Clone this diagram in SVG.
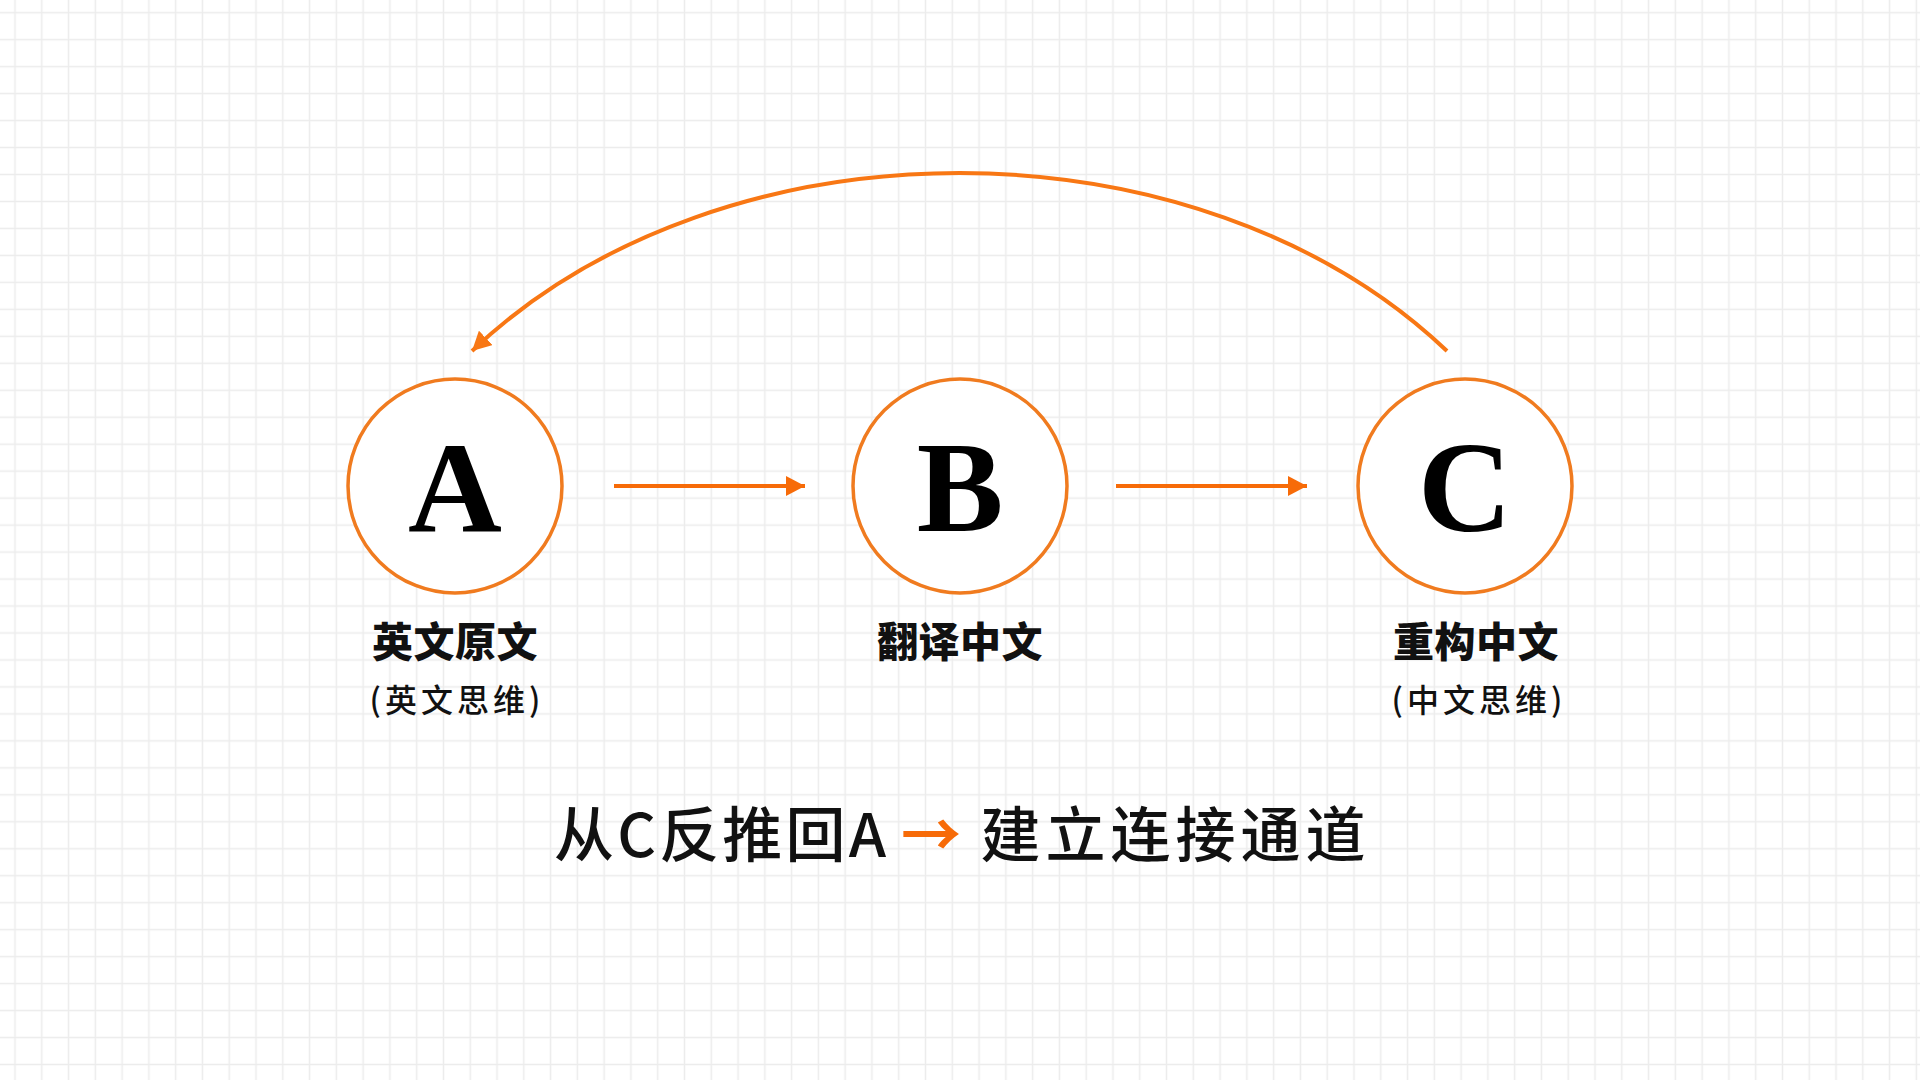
<svg xmlns="http://www.w3.org/2000/svg" width="1920" height="1080" viewBox="0 0 1920 1080">
  <defs>
    <pattern id="grid" patternUnits="userSpaceOnUse" x="1.6" y="-0.8" width="26.78" height="26.97">
      <path d="M13.39,0 V26.97 M0,13.5 H26.78" stroke="#ECECEC" stroke-width="1.5" fill="none"/>
    </pattern>
    <marker id="arrow" markerUnits="userSpaceOnUse" markerWidth="20" markerHeight="20" refX="19" refY="10" orient="auto">
      <path d="M0,0 L19,10 L0,20 Z" fill="#F76B08"/>
    </marker>
    <marker id="arrowArc" markerUnits="userSpaceOnUse" markerWidth="20" markerHeight="20" refX="19" refY="10" orient="auto">
      <path d="M0,0 L19,10 L0,20 Z" fill="#F87714"/>
    </marker>
  </defs>
  <style>
    .node { fill: #FFFFFF; stroke: #F07B1F; stroke-width: 3.5; }
    .letter { font-family: "Liberation Serif", "DejaVu Serif", serif; font-weight: bold; font-size: 130px; fill: #000; text-anchor: middle; }
    .label { font-family: "Noto Sans CJK SC", "Noto Sans", sans-serif; font-weight: 900; font-size: 41px; fill: #111; text-anchor: middle; letter-spacing: 0.5px; }
    .sub { font-family: "Noto Sans CJK SC", "Noto Sans", sans-serif; font-weight: 500; font-size: 32px; fill: #111; text-anchor: middle; letter-spacing: 4px; }
    .conn { fill: none; stroke: #F76B08; stroke-width: 4; }
    .heading { font-family: "Noto Sans CJK SC", "Noto Sans", sans-serif; font-weight: 500; font-size: 60px; fill: #111; }
  </style>
  <rect x="0" y="0" width="1920" height="1080" fill="#FFFFFF"/>
  <rect x="0" y="0" width="1920" height="1080" fill="url(#grid)"/>

  <g id="connectors">
    <line class="conn" x1="614" y1="486" x2="805" y2="486" marker-end="url(#arrow)"/>
    <line class="conn" x1="1116" y1="486" x2="1307" y2="486" marker-end="url(#arrow)"/>
    <path class="conn" style="stroke:#F87714" d="M1447,351 C1197,113.7 722,113.7 472,351" marker-end="url(#arrowArc)"/>
  </g>

  <g id="node-A">
    <circle class="node" cx="455" cy="486" r="107"/>
    <text class="letter" x="455" y="531">A</text>
    <text class="label" x="455" y="657">英文原文</text>
    <text class="sub" x="457" y="712">(英文思维)</text>
  </g>
  <g id="node-B">
    <circle class="node" cx="960" cy="486" r="107"/>
    <text class="letter" x="960" y="531">B</text>
    <text class="label" x="960" y="657">翻译中文</text>
  </g>
  <g id="node-C">
    <circle class="node" cx="1465" cy="486" r="107"/>
    <text class="letter" x="1465" y="531">C</text>
    <text class="label" x="1476" y="657">重构中文</text>
    <text class="sub" x="1479" y="712">(中文思维)</text>
  </g>

  <g id="caption">
    <text class="heading" x="554" y="857" textLength="332" lengthAdjust="spacing">从C反推回A</text>
    <text class="heading" x="931" y="857" text-anchor="middle" style="fill:#F76B08;font-weight:700">→</text>
    <text class="heading" x="980.6" y="857" textLength="385" lengthAdjust="spacing">建立连接通道</text>
  </g>
</svg>
